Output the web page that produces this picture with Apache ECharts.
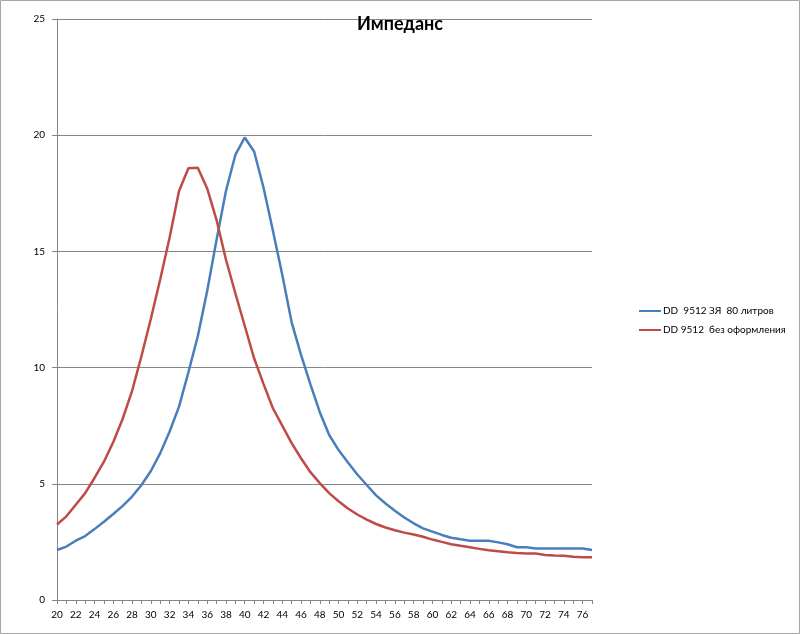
<!DOCTYPE html>
<html>
<head>
<meta charset="utf-8">
<script src="https://cdn.jsdelivr.net/npm/echarts@6/dist/echarts.min.js"></script>
<style>
    html, body { margin: 0; padding: 0; background: #fff; }
    #main { width: 800px; height: 634px; }
</style>
</head>
<body>
<div id="main"></div>
<script>
// частоты (Гц) по оси X
var freqs = [];
for (var f = 20; f <= 77; f++) freqs.push(String(f));

// DD 9512 ЗЯ 80 литров
var blueVals = [
    2.15, 2.3, 2.55, 2.75, 3.05, 3.37, 3.7, 4.05, 4.45, 4.95,
    5.55, 6.32, 7.25, 8.32, 9.8, 11.35, 13.3, 15.5, 17.6, 19.15,
    19.9, 19.3, 17.75, 15.9, 14.0, 11.95, 10.55, 9.28, 8.08, 7.1,
    6.45, 5.92, 5.4, 4.95, 4.5, 4.15, 3.84, 3.55, 3.3, 3.08,
    2.94, 2.8, 2.68, 2.61, 2.55, 2.55, 2.55, 2.48, 2.4, 2.27,
    2.27, 2.22, 2.22, 2.22, 2.22, 2.22, 2.22, 2.15
];

// DD 9512 без оформления
var redVals = [
    3.25, 3.6, 4.1, 4.6, 5.25, 5.95, 6.8, 7.8, 9.0, 10.5,
    12.1, 13.8, 15.6, 17.6, 18.58, 18.6, 17.71, 16.35, 14.65, 13.2,
    11.8, 10.4, 9.3, 8.25, 7.5, 6.75, 6.1, 5.5, 5.03, 4.6,
    4.25, 3.94, 3.68, 3.46, 3.27, 3.12, 3.0, 2.9, 2.82, 2.72,
    2.6, 2.5, 2.4, 2.33, 2.27, 2.2, 2.14, 2.1, 2.05, 2.02,
    2.0, 2.0, 1.94, 1.91, 1.9, 1.86, 1.84, 1.84
];

var seriesNames = ['DD  9512 ЗЯ  80 литров', 'DD 9512  без оформления'];
var yTicks = [0, 5, 10, 15, 20, 25];

var myChart = echarts.init(document.getElementById('main'));
var font = 'Lato, "Open Sans", sans-serif';

var option = {
    animation: false,
    backgroundColor: '#fff',
    title: {
        text: 'Импеданс',
        left: 'center',
        top: 10,
        textStyle: { fontFamily: font, fontSize: 18, fontWeight: 'bold', color: '#000' }
    },
    graphic: [{
        type: 'rect',
        shape: { x: 0.5, y: 0.5, width: 799, height: 633 },
        style: { fill: 'none', stroke: '#a6a6a6', lineWidth: 1 },
        silent: true
    }],
    legend: {
        orient: 'vertical',
        left: 634,
        top: 301,
        itemGap: 9,
        itemWidth: 22,
        itemHeight: 2,
        icon: 'rect',
        data: seriesNames,
        textStyle: { fontFamily: font, fontSize: 10, color: '#000', padding: [0, 0, 0, -3] }
    },
    grid: { left: 57, right: 208, top: 19, bottom: 34 },
    xAxis: {
        type: 'category',
        data: freqs,
        boundaryGap: false,
        axisLine: { lineStyle: { color: '#868686', width: 1 } },
        axisTick: { interval: 0, length: 4, lineStyle: { color: '#868686' } },
        axisLabel: { interval: 1, fontFamily: font, fontSize: 10, color: '#000', margin: 10 },
        splitLine: { show: false }
    },
    yAxis: {
        type: 'value',
        min: yTicks[0],
        max: yTicks[yTicks.length - 1],
        interval: 5,
        axisLine: { show: true, lineStyle: { color: '#868686', width: 1 } },
        axisTick: { show: true, length: 5, lineStyle: { color: '#868686' } },
        axisLabel: { fontFamily: font, fontSize: 10, color: '#000', margin: 12 },
        splitLine: { lineStyle: { color: '#868686', width: 1 } }
    },
    series: [
        {
            name: seriesNames[0],
            type: 'line',
            data: blueVals,
            showSymbol: false,
            symbol: 'none',
            lineStyle: { color: '#4a7ebb', width: 2.5 },
            itemStyle: { color: '#4a7ebb' }
        },
        {
            name: seriesNames[1],
            type: 'line',
            data: redVals,
            showSymbol: false,
            symbol: 'none',
            lineStyle: { color: '#be4b48', width: 2.5 },
            itemStyle: { color: '#be4b48' }
        }
    ]
};

myChart.setOption(option);
</script>
</body>
</html>
